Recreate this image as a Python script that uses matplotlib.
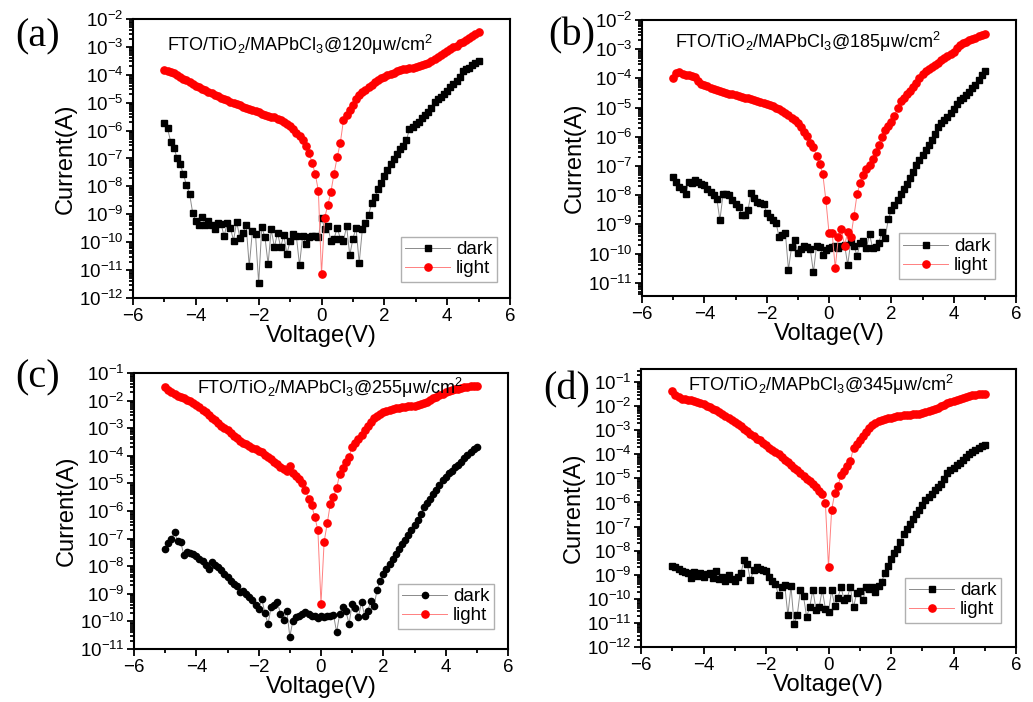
import numpy as np
import matplotlib
matplotlib.use("Agg")
import matplotlib.pyplot as plt
from matplotlib.ticker import LogLocator, LogFormatterMathtext, MultipleLocator, NullFormatter

plt.rcParams["font.family"] = ["Liberation Sans", "DejaVu Sans"]
plt.rcParams["mathtext.fontset"] = "custom"
plt.rcParams["mathtext.rm"] = "Liberation Sans"
plt.rcParams["mathtext.it"] = "Liberation Sans:italic"
plt.rcParams["mathtext.default"] = "regular"

# Bias sweep, -5 V to +5 V in 0.1 V steps
voltage = np.round(np.arange(-50, 51) / 10.0, 1)

# log10 of the measured current (A)
dark_a = [
    -5.74, -5.92, -6.40, -6.61, -6.97, -7.21, -7.54, -7.95, -8.26, -8.95,
    -9.25, -9.39, -9.10, -9.39, -9.25, -9.39, -9.54, -9.31, -9.34, -9.78,
    -9.31, -9.49, -9.94, -9.27, -9.84, -9.66, -9.37, -10.86, -9.60, -9.72,
    -11.46, -9.46, -9.82, -10.78, -9.54, -10.18, -9.66, -10.18, -9.75, -10.42,
    -9.96, -9.72, -9.78, -10.83, -9.78, -10.06, -9.82, -9.78, -9.78, -9.82,
    -9.13, -9.51, -9.43, -9.96, -9.87, -9.49, -9.87, -9.94, -9.43, -10.47,
    -9.87, -9.49, -10.74, -9.54, -9.31, -9.01, -8.59, -8.38, -8.11, -7.87,
    -7.63, -7.43, -7.21, -7.03, -6.83, -6.67, -6.55, -6.35, -5.95, -5.87,
    -5.77, -5.68, -5.56, -5.45, -5.35, -5.20, -4.99, -4.87, -4.79, -4.69,
    -4.57, -4.43, -4.34, -4.22, -4.07, -3.88, -3.80, -3.74, -3.64, -3.57,
    -3.50,
]
light_a = [
    -3.82, -3.85, -3.90, -3.95, -4.01, -4.07, -4.14, -4.20, -4.27, -4.33,
    -4.40, -4.45, -4.51, -4.56, -4.62, -4.67, -4.72, -4.77, -4.82, -4.86,
    -4.91, -4.96, -5.01, -5.05, -5.10, -5.15, -5.19, -5.23, -5.27, -5.31,
    -5.35, -5.39, -5.43, -5.46, -5.50, -5.53, -5.57, -5.62, -5.68, -5.76,
    -5.85, -5.95, -6.07, -6.20, -6.35, -6.55, -6.80, -7.15, -7.55, -8.15,
    -11.14, -9.13, -8.67, -8.19, -7.54, -6.95, -6.43, -5.62, -5.45, -5.25,
    -5.08, -4.85, -4.72, -4.62, -4.53, -4.44, -4.35, -4.27, -4.20, -4.13,
    -4.07, -4.02, -3.97, -3.92, -3.88, -3.84, -3.81, -3.79, -3.77, -3.75,
    -3.72, -3.69, -3.65, -3.61, -3.56, -3.50, -3.44, -3.37, -3.29, -3.21,
    -3.14, -3.08, -3.02, -2.95, -2.87, -2.81, -2.75, -2.68, -2.62, -2.55,
    -2.48,
]
dark_b = [
    -7.36, -7.55, -7.72, -7.78, -7.97, -7.55, -7.58, -7.49, -7.55, -7.61,
    -7.66, -7.78, -7.89, -8.00, -8.12, -8.85, -7.97, -7.97, -8.00, -8.17,
    -8.31, -8.40, -8.68, -8.68, -8.51, -7.92, -8.08, -8.23, -8.26, -8.29,
    -8.60, -8.74, -8.85, -8.94, -9.44, -9.36, -9.30, -10.55, -9.76, -9.53,
    -9.98, -9.85, -9.73, -9.78, -9.85, -10.64, -9.73, -9.78, -10.04, -9.89,
    -9.81, -9.76, -9.73, -9.81, -9.73, -9.70, -10.38, -9.59, -9.73, -10.07,
    -9.64, -9.55, -9.81, -9.33, -9.81, -9.78, -9.62, -9.25, -9.47, -8.83,
    -8.51, -8.34, -8.15, -7.95, -7.78, -7.61, -7.41, -7.21, -6.98, -6.79,
    -6.61, -6.45, -6.27, -6.11, -5.91, -5.66, -5.54, -5.43, -5.32, -5.20,
    -5.06, -4.87, -4.75, -4.66, -4.57, -4.46, -4.34, -4.21, -4.07, -3.89,
    -3.73,
]
light_b = [
    -4.00, -3.81, -3.78, -3.85, -3.87, -3.89, -3.93, -3.96, -4.10, -4.19,
    -4.21, -4.26, -4.32, -4.37, -4.40, -4.43, -4.46, -4.49, -4.53, -4.55,
    -4.57, -4.59, -4.63, -4.66, -4.68, -4.71, -4.74, -4.77, -4.80, -4.83,
    -4.87, -4.91, -4.96, -5.00, -5.06, -5.11, -5.18, -5.25, -5.34, -5.43,
    -5.54, -5.66, -5.82, -5.96, -6.22, -6.36, -6.64, -6.93, -7.27, -8.17,
    -9.28, -9.28, -10.49, -9.44, -9.17, -9.73, -9.25, -9.44, -8.72, -7.97,
    -7.58, -7.29, -7.10, -6.95, -6.76, -6.53, -6.27, -6.00, -5.77, -5.62,
    -5.48, -5.30, -5.00, -4.77, -4.66, -4.55, -4.43, -4.30, -4.15, -4.00,
    -3.85, -3.76, -3.68, -3.60, -3.53, -3.46, -3.38, -3.30, -3.22, -3.16,
    -3.08, -2.96, -2.87, -2.80, -2.76, -2.70, -2.65, -2.60, -2.55, -2.51,
    -2.48,
]
dark_c = [
    -7.36, -7.16, -7.00, -6.76, -7.09, -7.12, -7.61, -7.48, -7.52, -7.57,
    -7.64, -7.73, -7.81, -7.97, -8.09, -7.85, -7.97, -8.03, -8.13, -8.27,
    -8.39, -8.52, -8.66, -8.70, -8.94, -8.90, -9.00, -9.12, -9.24, -9.39,
    -9.55, -9.18, -9.70, -10.09, -9.48, -9.39, -9.30, -9.73, -9.95, -9.61,
    -10.55, -9.97, -9.85, -9.79, -9.73, -9.67, -9.73, -9.79, -9.82, -9.87,
    -9.79, -9.85, -9.82, -9.79, -9.75, -10.39, -9.73, -9.48, -9.63, -10.09,
    -9.36, -9.51, -9.85, -9.30, -9.79, -9.61, -9.27, -9.46, -8.85, -8.52,
    -8.30, -8.09, -7.91, -7.73, -7.55, -7.36, -7.18, -7.04, -6.88, -6.70,
    -6.52, -6.33, -6.12, -5.85, -5.70, -5.55, -5.39, -5.24, -5.06, -4.88,
    -4.76, -4.64, -4.54, -4.42, -4.33, -4.21, -4.09, -3.97, -3.85, -3.76,
    -3.69,
]
light_c = [
    -1.51, -1.61, -1.70, -1.75, -1.82, -1.87, -1.92, -1.97, -2.03, -2.09,
    -2.15, -2.24, -2.33, -2.43, -2.53, -2.64, -2.72, -2.82, -2.92, -3.00,
    -3.08, -3.18, -3.28, -3.36, -3.45, -3.52, -3.57, -3.64, -3.70, -3.76,
    -3.82, -3.88, -3.97, -4.05, -4.13, -4.21, -4.30, -4.39, -4.47, -4.54,
    -4.37, -4.61, -4.73, -4.85, -4.98, -5.24, -5.55, -5.80, -6.21, -6.70,
    -9.36, -7.12, -6.45, -5.73, -5.48, -5.18, -4.66, -4.45, -4.21, -4.03,
    -3.67, -3.55, -3.40, -3.24, -3.08, -2.92, -2.76, -2.64, -2.55, -2.48,
    -2.43, -2.38, -2.35, -2.31, -2.27, -2.25, -2.24, -2.22, -2.21, -2.19,
    -2.18, -2.16, -2.13, -2.09, -2.04, -1.98, -1.92, -1.86, -1.80, -1.75,
    -1.70, -1.67, -1.63, -1.59, -1.57, -1.55, -1.52, -1.50, -1.48, -1.47,
    -1.46,
]
dark_d = [
    -8.65, -8.68, -8.75, -8.84, -8.88, -8.93, -9.12, -8.88, -9.06, -8.93,
    -9.09, -8.95, -8.93, -9.12, -8.84, -9.16, -9.09, -9.26, -9.02, -9.16,
    -9.26, -9.09, -8.93, -8.37, -8.54, -9.23, -8.81, -8.68, -8.75, -8.79,
    -8.84, -9.09, -9.26, -9.37, -9.85, -9.51, -9.44, -10.68, -9.48, -11.03,
    -10.68, -9.64, -9.89, -10.75, -10.34, -9.62, -10.45, -10.36, -9.62, -10.41,
    -10.54, -9.64, -10.31, -9.95, -9.53, -10.03, -9.95, -9.53, -10.36, -9.76,
    -9.67, -10.06, -9.53, -9.58, -9.51, -9.71, -9.48, -9.30, -8.93, -8.65,
    -8.33, -8.10, -7.92, -7.64, -7.29, -7.09, -6.88, -6.67, -6.49, -6.30,
    -6.12, -5.91, -5.77, -5.63, -5.50, -5.36, -5.22, -5.01, -4.78, -4.67,
    -4.55, -4.46, -4.36, -4.25, -4.11, -4.00, -3.90, -3.84, -3.72, -3.67,
    -3.63,
]
light_d = [
    -1.37, -1.55, -1.62, -1.69, -1.72, -1.73, -1.76, -1.79, -1.83, -1.87,
    -1.93, -1.98, -2.04, -2.11, -2.18, -2.26, -2.34, -2.42, -2.51, -2.59,
    -2.67, -2.76, -2.84, -2.94, -3.03, -3.14, -3.24, -3.35, -3.42, -3.53,
    -3.63, -3.72, -3.81, -3.90, -4.00, -4.11, -4.22, -4.32, -4.44, -4.55,
    -4.67, -4.78, -4.89, -5.01, -5.11, -5.22, -5.36, -5.52, -5.66, -6.02,
    -8.68, -6.32, -5.61, -5.33, -4.87, -4.69, -4.50, -4.28, -3.72, -3.59,
    -3.42, -3.25, -3.07, -2.89, -2.80, -2.70, -2.63, -2.59, -2.55, -2.51,
    -2.48, -2.45, -2.42, -2.40, -2.38, -2.37, -2.36, -2.34, -2.33, -2.31,
    -2.29, -2.26, -2.22, -2.18, -2.13, -2.06, -2.01, -1.94, -1.87, -1.83,
    -1.79, -1.73, -1.69, -1.65, -1.62, -1.58, -1.55, -1.53, -1.50, -1.48,
    -1.48,
]

panel_tags = ["(a)", "(b)", "(c)", "(d)"]
intensities = ["120", "185", "255", "345"]
dark_markers = ["s", "s", "o", "s"]
y_limits = [(1e-12, 1e-2), (10 ** -11.45, 1e-2), (1e-11, 1e-1), (1e-12, 10 ** -0.46)]
dark_series = [dark_a, dark_b, dark_c, dark_d]
light_series = [light_a, light_b, light_c, light_d]

W, H = 1033, 702
fig = plt.figure(figsize=(W / 100, H / 100), dpi=100)

# axes boxes in pixels: left, top, right, bottom
boxes = [(133, 19, 510, 298), (642, 20, 1016, 296), (134, 373, 508, 649), (641, 369, 1016, 647)]
title_pos = [(0.09, 0.907), (0.088, 0.92), (0.168, 0.946), (0.125, 0.942)]
legend_anchor = [(0.966, 0.057), (0.944, 0.062), (0.963, 0.072), (0.96, 0.086)]
tag_pos = [(15, 37), (548, 36), (15, 378), (543, 390)]

for i in range(4):
    l, t, r, b = boxes[i]
    ax = fig.add_axes([l / W, 1 - b / H, (r - l) / W, (b - t) / H])
    dark = 10.0 ** np.array(dark_series[i])
    light = 10.0 ** np.array(light_series[i])
    ax.plot(voltage, dark, color="#8a8a8a", lw=0.7, marker=dark_markers[i],
            ms=4.5, mfc="black", mec="black", label="dark")
    ax.plot(voltage, light, color="#ff8080", lw=0.7, marker="o",
            ms=5.2, mfc="red", mec="red", label="light")
    ax.set_yscale("log")
    ax.set_xlim(-6, 6)
    ax.set_ylim(*y_limits[i])
    ax.xaxis.set_major_locator(MultipleLocator(2))
    ax.xaxis.set_minor_locator(MultipleLocator(1))
    ax.yaxis.set_major_locator(LogLocator(base=10, numticks=20))
    ax.yaxis.set_minor_locator(LogLocator(base=10, subs=np.arange(2, 10), numticks=20))
    ax.yaxis.set_major_formatter(LogFormatterMathtext())
    ax.yaxis.set_minor_formatter(NullFormatter())
    ax.tick_params(which="both", direction="out", top=False, right=False, labelsize=13.5,
                   width=1.3, pad=2)
    ax.tick_params(which="major", length=5)
    ax.tick_params(which="minor", length=3)
    for sp in ax.spines.values():
        sp.set_linewidth(1.5)
    ax.set_xlabel("Voltage(V)", fontsize=17, labelpad=0)
    ax.set_ylabel("Current(A)", fontsize=17, labelpad=1)
    ax.text(title_pos[i][0], title_pos[i][1],
            "FTO/TiO$_2$/MAPbCl$_3$@" + intensities[i] + "\u03bcw/cm$^2$",
            transform=ax.transAxes, fontsize=13, va="center", ha="left")
    leg = ax.legend(loc="lower right", bbox_to_anchor=legend_anchor[i], fontsize=13.5,
                    numpoints=1, handlelength=2.4, handletextpad=0.3, borderpad=0.25,
                    labelspacing=0.1, borderaxespad=0, fancybox=False, framealpha=1)
    leg.get_frame().set_edgecolor("#b0b0b0")
    leg.get_frame().set_linewidth(1.0)
    fig.text(tag_pos[i][0] / W, 1 - tag_pos[i][1] / H, panel_tags[i],
             fontsize=29, family="Liberation Serif", va="center", ha="left")

fig.savefig("out.png", dpi=100)
